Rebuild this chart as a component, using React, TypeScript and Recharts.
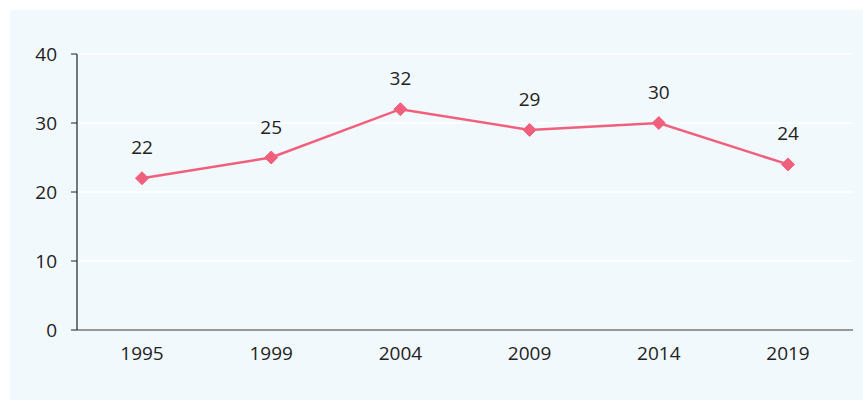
import React from "react";
import { LineChart, Line, XAxis, YAxis, CartesianGrid, LabelList } from "recharts";

const years = ["1995", "1999", "2004", "2009", "2014", "2019"];
const values = [22, 25, 32, 29, 30, 24];
const yTicks = [0, 10, 20, 30, 40];

const data = years.map((y, i) => ({ year: y, value: values[i] }));

const COLOR = "#f0607c";
const FONT = "'Open Sans', 'Noto Sans', sans-serif";

const Diamond = (props: any) => {
  const { cx, cy } = props;
  if (cx == null || cy == null) return null;
  const r = 6.5;
  return (
    <polygon
      points={`${cx},${cy - r} ${cx + r},${cy} ${cx},${cy + r} ${cx - r},${cy}`}
      fill={COLOR}
      stroke={COLOR}
      strokeWidth={1}
    />
  );
};

export default function App() {
  return (
    <div
      style={{
        position: "absolute",
        left: 10,
        top: 10,
        width: 853,
        height: 390,
        background: "#f2f9fd",
      }}
    >
      <LineChart
        width={853}
        height={390}
        data={data}
        margin={{ top: 44, right: 10, bottom: 0, left: 0 }}
      >
        <CartesianGrid vertical={false} stroke="#ffffff" strokeWidth={1.5} />
        <XAxis
          dataKey="year"
          padding={{ left: 65, right: 65 }}
          tickLine={false}
          axisLine={{ stroke: "#333333", strokeWidth: 1 }}
          tickSize={6}
          tickMargin={11}
          height={70}
          tick={{ fill: "#222222", fontSize: 19, fontFamily: FONT }}
          interval={0}
        />
        <YAxis
          domain={[0, 40]}
          ticks={yTicks}
          width={67}
          axisLine={{ stroke: "#222222", strokeWidth: 1.2 }}
          tickLine={{ stroke: "#222222" }}
          tickSize={6}
          tickMargin={14}
          tick={{ fill: "#222222", fontSize: 19, fontFamily: FONT }}
        />
        <Line
          type="linear"
          dataKey="value"
          stroke={COLOR}
          strokeWidth={2.5}
          dot={<Diamond />}
          activeDot={false}
          isAnimationActive={false}
        >
          <LabelList
            dataKey="value"
            position="top"
            offset={24}
            style={{ fill: "#222222", fontSize: 19, fontFamily: FONT }}
          />
        </Line>
      </LineChart>
    </div>
  );
}
